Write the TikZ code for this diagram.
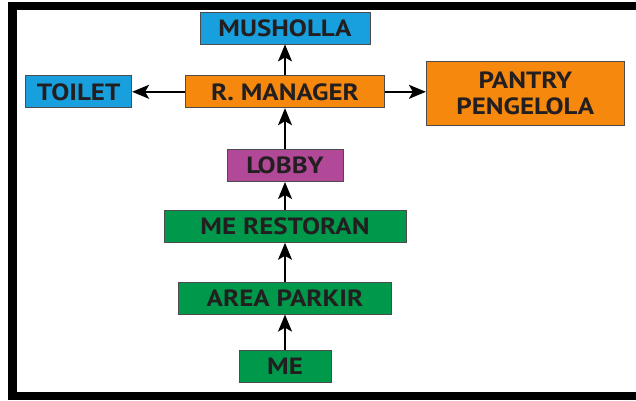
\documentclass[tikz,border=0pt]{standalone}
\usepackage{fontspec}
\setmainfont{PT Sans}[FakeStretch=1.15]
\usetikzlibrary{arrows.meta,positioning}
\definecolor{cyanbox}{RGB}{24,160,222}
\definecolor{orangebox}{RGB}{246,136,14}
\definecolor{lobbybox}{RGB}{178,72,152}
\definecolor{greenbox}{RGB}{0,152,74}
\definecolor{inkdark}{RGB}{35,31,32}

\begin{document}
\begin{tikzpicture}[x=1pt, y=-1pt, node distance=35pt, font=\fontsize{23.5}{26}\selectfont\bfseries]
\tikzstyle{room} = [draw=black!70, line width=0.8pt, inner sep=0pt, minimum height=32pt, text=inkdark, align=center]
\tikzstyle{arrow} = [-{Stealth[length=17pt, width=14pt, inset=4pt]}, line width=1.8pt, black]
\useasboundingbox (0,0) rectangle (636,400);
% frame
\fill[black] (8,2) rectangle (636,10);
\fill[black] (8,2) rectangle (17,400);
\fill[black] (8,392) rectangle (636,400);
% rooms
\node[room, fill=greenbox, minimum width=92pt] (me) at (285,366) {ME};
\node[room, fill=greenbox, minimum width=213pt, above=35pt of me] (parkir) {AREA PARKIR};
\node[room, fill=greenbox, minimum width=242pt, above=39pt of parkir] (resto) {ME RESTORAN};
\node[room, fill=lobbybox, minimum width=116pt, above=28pt of resto] (lobby) {LOBBY};
\node[room, fill=orangebox, minimum width=199pt, above=41pt of lobby] (rman) {R. MANAGER};
\node[room, fill=cyanbox, minimum width=170pt, above=31pt of rman] (mush) {MUSHOLLA};
\node[room, fill=cyanbox, minimum width=106pt, left=53pt of rman] (toilet) {TOILET};
\node[room, fill=orangebox, minimum width=198pt, minimum height=64pt, right=41pt of rman, yshift=-2pt] (pantry) {PANTRY\\PENGELOLA};
% arrows
\draw[arrow] (me) -- (parkir);
\draw[arrow] (parkir) -- (resto);
\draw[arrow] (resto) -- (lobby);
\draw[arrow] (lobby) -- (rman);
\draw[arrow] (rman) -- (mush);
\draw[arrow] (rman) -- (toilet);
\draw[arrow] (rman.east) -- (rman.east -| pantry.west);
\end{tikzpicture}
\end{document}
